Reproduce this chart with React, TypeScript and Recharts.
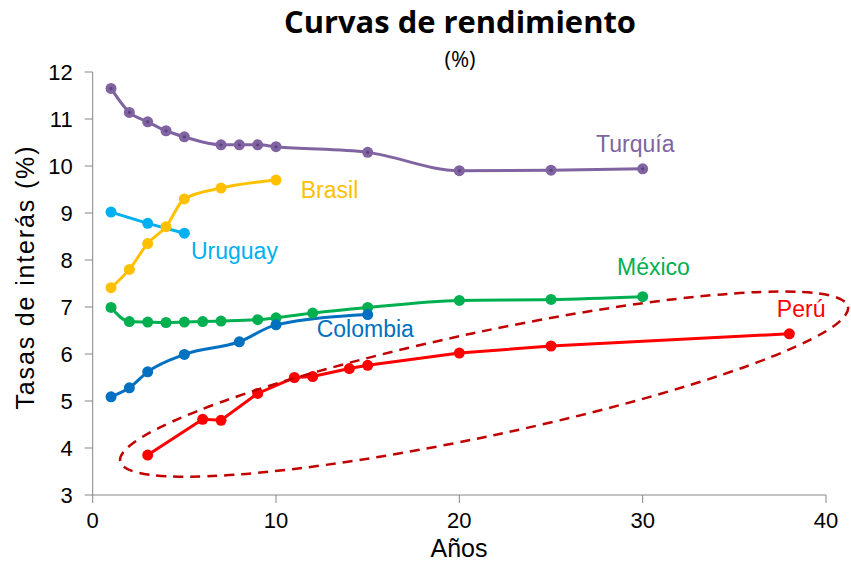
import React from 'react';
import { LineChart, Line, XAxis, YAxis, ReferenceDot } from 'recharts';

// plazos (años) y tasas (%)
const turquiaX = [1, 2, 3, 4, 5, 7, 8, 9, 10, 15, 20, 25, 30];
const turquiaY = [11.65, 11.14, 10.94, 10.75, 10.62, 10.45, 10.45, 10.45, 10.41, 10.29, 9.9, 9.91, 9.94];

const brasilX = [1, 2, 3, 4, 5, 7, 10];
const brasilY = [7.41, 7.8, 8.35, 8.71, 9.3, 9.53, 9.7];

const uruguayX = [1, 3, 5];
const uruguayY = [9.02, 8.78, 8.57];

const mexicoX = [1, 2, 3, 4, 5, 6, 7, 9, 10, 12, 15, 20, 25, 30];
const mexicoY = [6.99, 6.69, 6.68, 6.67, 6.68, 6.69, 6.7, 6.73, 6.77, 6.87, 6.99, 7.14, 7.16, 7.22];

const colombiaX = [1, 2, 3, 5, 8, 10, 15];
const colombiaY = [5.09, 5.28, 5.62, 5.99, 6.26, 6.62, 6.84];

const peruX = [3, 6, 7, 9, 11, 12, 14, 15, 20, 25, 38];
const peruY = [3.85, 4.61, 4.59, 5.16, 5.5, 5.52, 5.69, 5.76, 6.02, 6.17, 6.43];

const xTicks = [0, 10, 20, 30, 40];
const yTicks = [3, 4, 5, 6, 7, 8, 9, 10, 11, 12];

const toPoints = (xs: number[], ys: number[]) => xs.map((x, i) => ({ x, y: ys[i] }));

const FONT = '"Liberation Sans", Arial, sans-serif';

const series = [
  { name: 'Turquía', color: '#8064A2', data: toPoints(turquiaX, turquiaY), type: 'monotone', inner: '#5B437D' },
  { name: 'Brasil', color: '#FFC000', data: toPoints(brasilX, brasilY), type: 'monotone' },
  { name: 'Uruguay', color: '#00B0F0', data: toPoints(uruguayX, uruguayY), type: 'linear' },
  { name: 'México', color: '#00B050', data: toPoints(mexicoX, mexicoY), type: 'monotone' },
  { name: 'Colombia', color: '#0070C0', data: toPoints(colombiaX, colombiaY), type: 'monotone' },
  { name: 'Perú', color: '#FF0000', data: toPoints(peruX, peruY), type: 'linear' },
];

// anclas de las etiquetas (inicio del texto, línea base) en coordenadas de datos
const labelPos: Record<string, [number, number]> = {
  'Turquía': [27.46, 10.3],
  'Brasil': [11.35, 9.32],
  'Uruguay': [5.36, 8.02],
  'México': [28.6, 7.68],
  'Colombia': [12.22, 6.37],
  'Perú': [37.32, 6.79],
};

const ellipseCenter = { x: 21.35, y: 5.36 };

const AXIS = '#868686';

export default function App() {
  return (
    <div style={{ position: 'absolute', left: 0, top: 0, width: 851, height: 562, background: '#fff' }}>
      <LineChart width={851} height={562} margin={{ top: 72, right: 25, left: 0, bottom: 0 }}>
        <XAxis
          type="number"
          dataKey="x"
          domain={[0, 40]}
          ticks={xTicks}
          allowDuplicatedCategory={false}
          height={67}
          tickSize={8}
          tickMargin={9}
          stroke={AXIS}
          tick={{ fill: '#000', fontSize: 22, fontFamily: FONT }}
          tickLine={{ stroke: AXIS }}
        />
        <YAxis
          type="number"
          domain={[3, 12]}
          ticks={yTicks}
          width={92.7}
          tickSize={8}
          tickMargin={12}
          stroke={AXIS}
          tick={{ fill: '#000', fontSize: 22, fontFamily: FONT }}
          tickLine={{ stroke: AXIS }}
        />
        {series.map((s) => (
          <Line
            key={s.name}
            data={s.data}
            dataKey="y"
            type={s.type as any}
            stroke={s.color}
            strokeWidth={3}
            isAnimationActive={false}
            dot={
              s.inner
                ? (p: any) => (
                    <g key={`${s.name}-${p.index}`}>
                      <circle cx={p.cx} cy={p.cy} r={5.5} fill={s.color} />
                      <circle cx={p.cx} cy={p.cy} r={1.6} fill={s.inner} />
                    </g>
                  )
                : { r: 5.5, fill: s.color, stroke: s.color, strokeWidth: 0 }
            }
            activeDot={false}
          />
        ))}
        <ReferenceDot
          x={ellipseCenter.x}
          y={ellipseCenter.y}
          shape={(p: any) => (
            <ellipse
              cx={p.cx}
              cy={p.cy}
              rx={372}
              ry={52}
              transform={`rotate(-12 ${p.cx} ${p.cy})`}
              fill="none"
              stroke="#C00000"
              strokeWidth={2.5}
              strokeDasharray="10 7"
            />
          )}
        />
        {series.map((s) => (
          <ReferenceDot
            key={`lbl-${s.name}`}
            x={labelPos[s.name][0]}
            y={labelPos[s.name][1]}
            shape={(p: any) => (
              <text x={p.cx} y={p.cy} fill={s.color} fontSize={23} fontFamily={FONT}>
                {s.name}
              </text>
            )}
          />
        ))}
      </LineChart>
      <svg width={851} height={562} style={{ position: 'absolute', left: 0, top: 0, pointerEvents: 'none' }}>
        <text
          x={460}
          y={33}
          textAnchor="middle"
          fontSize={30}
          fontWeight="bold"
          fontFamily="'Open Sans', Lato, sans-serif"
          fill="#000"
          textLength={352}
          lengthAdjust="spacingAndGlyphs"
        >
          Curvas de rendimiento
        </text>
        <text x={460} y={67} textAnchor="middle" fontSize={22} fontFamily="'Open Sans', Lato, sans-serif" fill="#000">
          (%)
        </text>
        <text
          transform="translate(34,278) rotate(-90)"
          textAnchor="middle"
          fontSize={25}
          fontFamily={FONT}
          fill="#000"
          textLength={263}
          lengthAdjust="spacing"
        >
          Tasas de interás (%)
        </text>
        <text x={459} y={557} textAnchor="middle" fontSize={25} fontFamily={FONT} fill="#000">
          Años
        </text>
      </svg>
    </div>
  );
}
